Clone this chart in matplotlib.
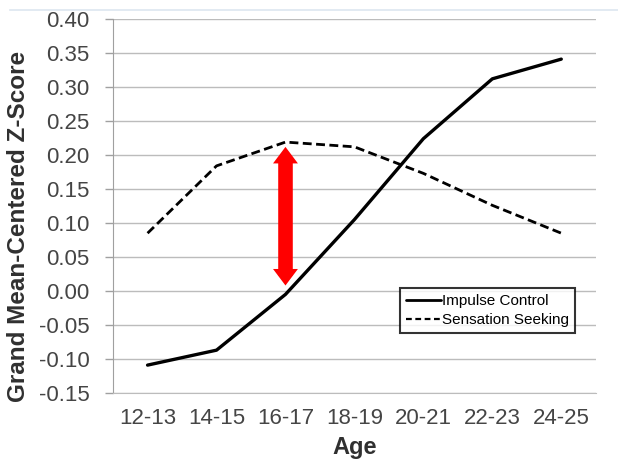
from matplotlib import pyplot as plt
from matplotlib.patches import FancyArrowPatch

# data
ages = ["12-13", "14-15", "16-17", "18-19", "20-21", "22-23", "24-25"]
impulse_control = [-0.109, -0.087, -0.005, 0.105, 0.224, 0.312, 0.341]
sensation_seeking = [0.085, 0.184, 0.219, 0.212, 0.173, 0.126, 0.085]
yticks = [-0.15, -0.10, -0.05, 0.00, 0.05, 0.10, 0.15, 0.20, 0.25, 0.30, 0.35, 0.40]
arrow_from = 0.216	# red arrow, at 16-17
arrow_to = 0.004

plt.rcParams['font.family'] = ['Liberation Sans', 'DejaVu Sans']

fig = plt.figure(figsize=(6.18, 4.59), dpi=100)
ax = fig.add_axes([0.183, 0.1438, 0.781, 0.8148])

x = list(range(len(ages)))
ax.plot(x, impulse_control, color='black', lw=2.4, label="Impulse Control",
		solid_joinstyle='round', solid_capstyle='round')
ax.plot(x, sensation_seeking, color='black', lw=2.0, ls=(0, (3.2, 1.6)),
		label="Sensation Seeking")

# red double arrow
arr = FancyArrowPatch((2, arrow_to), (2, arrow_from),
		arrowstyle='<|-|>,head_length=0.85,head_width=0.64',
		mutation_scale=14, lw=0, color='#ff0000', zorder=4)
ax.add_patch(arr)
ax.plot([2, 2], [arrow_to + 0.02, arrow_from - 0.02], color='#ff0000',
		lw=10.5, solid_capstyle='butt', zorder=4)

ax.set_xlim(-0.5, len(ages) - 0.5)
ax.set_ylim(-0.15, 0.40)
ax.set_yticks(yticks)
ax.set_yticklabels(["%.2f" % v for v in yticks])
ax.set_xticks(x)
ax.set_xticklabels(ages)
ax.tick_params(axis='y', colors='#a0a0a0', length=6, width=1, labelcolor='#454545',
		labelsize=16, pad=11)
ax.tick_params(axis='x', length=0, labelcolor='#454545', labelsize=16, pad=11)
ax.yaxis.grid(True, color='#bcbcbc', lw=1)
ax.set_axisbelow(True)
for s in ['top', 'right']:
	ax.spines[s].set_visible(False)
ax.spines['left'].set_color('#a0a0a0')
ax.spines['bottom'].set_color('#bcbcbc')

ax.set_xlabel("Age", fontsize=17, fontweight='bold', color='#303030')
ax.xaxis.set_label_coords(0.5, -0.147)
ax.xaxis.label.set_va('center')
ax.set_ylabel("Grand Mean-Centered Z-Score", fontsize=17.5, fontweight='bold',
		color='#303030')
ax.yaxis.set_label_coords(-0.197, 0.445)
ax.yaxis.label.set_va('center')

leg = ax.legend(loc='upper left', bbox_to_anchor=(0.594, 0.281), fontsize=11,
		frameon=True, fancybox=False, handlelength=2.3, handletextpad=0.05,
		borderpad=0.4, labelspacing=0.35, borderaxespad=0)
leg.get_frame().set_edgecolor('black')
leg.get_frame().set_linewidth(1.5)
handles = leg.get_lines()
handles[0].set_linewidth(2.0)
handles[1].set_linewidth(1.6)
handles[1].set_linestyle((0, (2.6, 1.6)))

# faint slide border at the top
fig.add_artist(plt.Line2D([0.016, 1.0], [0.978, 0.978], color='#dde6f0', lw=1.2))

fig.savefig("out.png", dpi=100)
